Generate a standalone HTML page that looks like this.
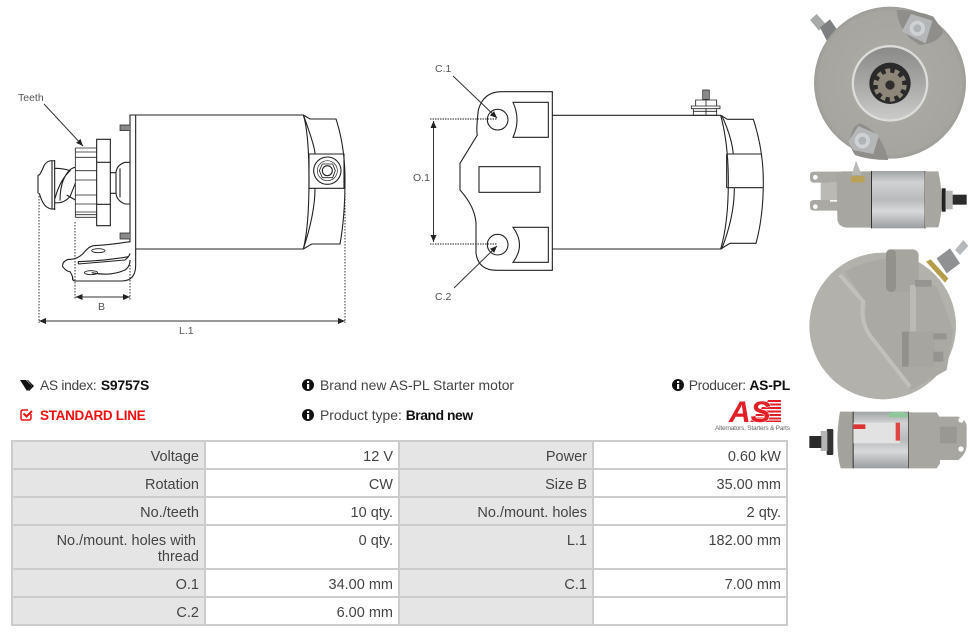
<!DOCTYPE html>
<html><head><meta charset="utf-8">
<style>
html,body{margin:0;padding:0;background:#fff}
#p{position:relative;width:976px;height:636px;overflow:hidden;font-family:"Liberation Sans",sans-serif;color:#444}
.t{position:absolute;white-space:nowrap;font-size:13.9px;line-height:18px}
.t b{color:#111;letter-spacing:-.45px}
.c{position:absolute;box-sizing:border-box;text-align:right;font-size:14.5px;line-height:16px;padding:7px 6px 0 6px;color:#444}
.l{background:#e5e5e5}
.g{position:absolute;background:#ccc}
svg{position:absolute;left:0;top:0}
</style></head><body><div id="p">
<svg width="976" height="636" viewBox="0 0 976 636">
<defs>
<marker id="a" markerWidth="8" markerHeight="8" refX="7" refY="3" orient="auto-start-reverse" markerUnits="userSpaceOnUse"><path d="M0 0L7 3L0 6Z" fill="#222"/></marker>
<linearGradient id="sil" x1="0" y1="0" x2="0" y2="1"><stop offset="0" stop-color="#a0a3a5"/><stop offset=".2" stop-color="#d0d2d3"/><stop offset=".5" stop-color="#b8babb"/><stop offset=".7" stop-color="#d8d9da"/><stop offset="1" stop-color="#9a9da0"/></linearGradient>
<linearGradient id="hub" x1="0" y1="0" x2="0" y2="1"><stop offset="0" stop-color="#8a8a88"/><stop offset=".6" stop-color="#aeaeac"/><stop offset="1" stop-color="#cbcbc9"/></linearGradient>
<radialGradient id="gc" cx=".5" cy=".5" r=".55"><stop offset="0" stop-color="#adaca7"/><stop offset=".85" stop-color="#a6a5a0"/><stop offset="1" stop-color="#908f8a"/></radialGradient>
</defs>

<!-- left drawing -->
<g transform="translate(10 80) scale(.33333)" fill="none" stroke="#222" stroke-width="3.300">
<path d="M377 105H880Q897 160 897 300Q897 440 880 507H377"/>
<path d="M360 487V105H377V555Q377 603 335 603H195Q186 603 188 590"/>
<path d="M880 105L900 117H978Q1005 200 1005 300Q1005 410 990 492H905L880 507"/>
<path d="M880 105Q915 200 915 222M880 507Q915 400 915 325M897 222H1002V325H897Z"/>
<circle cx="952" cy="272" r="41"/><circle cx="952" cy="272" r="30" stroke-width="2"/>
<path d="M937 252L968 252L976 272L968 293L937 293L928 272Z" stroke-width="2.500"/><circle cx="952" cy="272" r="15"/>
<path d="M360 135H330V152H360M360 459H330V477H360" fill="#888" stroke-width="2"/>
<path d="M260 178H301V437H260ZM260 247H301M260 373H301"/>
<path d="M196 204H260M196 412H260M196 204V412M196 232H260M196 272H260M196 300H260M196 345H260M196 372H260M196 216H260M196 396H260M196 404H260" stroke-width="2.500"/>
<path d="M301 278H318V340H301M318 278Q320 255 345 247H360M318 340Q320 362 345 372H360M330 265V352"/>
<path d="M134 240V390M126 243V388"/>
<path d="M134 243Q115 238 103 255Q95 275 88 285L84 285M84 285V340M88 340Q98 375 112 382Q125 390 134 386"/>
<path d="M134 265Q160 265 180 272Q150 300 135 355M196 262Q175 265 160 300Q150 325 150 362M134 368Q160 372 180 350L196 310M170 345L196 360"/>
<path d="M360 485Q300 495 250 497Q235 500 220 520Q200 540 175 538Q155 545 158 560Q170 575 180 575Q190 590 188 600"/>
<path d="M205 552Q290 545 345 540Q358 530 360 520M205 552V545Q290 542 355 530M245 578Q300 590 345 570Q360 560 360 540"/>
<ellipse cx="265" cy="512" rx="20" ry="6" stroke-width="2.500"/><ellipse cx="243" cy="578" rx="20" ry="6" stroke-width="2.500"/>
</g>
<g fill="none" stroke="#333" stroke-width="1">
<path d="M39 193V323M75 222V300M130 262V300M345 193V323" stroke-dasharray="1.500 1.500"/>
<path d="M75.500 297H130" marker-start="url(#a)" marker-end="url(#a)"/>
<path d="M39 321H345" marker-start="url(#a)" marker-end="url(#a)"/>
<path d="M44 104L83 146" marker-end="url(#a)"/>
</g>

<!-- middle drawing -->
<g transform="translate(400 50) scale(.33333)" fill="none" stroke="#222" stroke-width="3.300">
<path d="M457 125H305Q250 125 235 180Q228 240 232 255L180 340V420Q225 470 228 520V610Q235 661 290 661H457Z"/>
<circle cx="293" cy="209" r="31"/><circle cx="293" cy="584" r="31"/>
<path d="M339 157H445V262H339Q363 210 339 157ZM339 532H445V637H339Q378 585 339 532Z"/>
<rect x="237" y="350" width="183" height="77"/>
<path d="M457 196H962Q985 280 985 395Q985 520 962 597H457"/>
<path d="M962 196L982 208H1060Q1090 300 1090 395Q1090 500 1068 580H990L962 597"/>
<path d="M965 196Q995 260 1000 312M965 597Q1003 500 1003 415M980 312H1084M980 413H1088M980 312V413"/>
<path d="M874 168H960V176H874ZM880 176V196H950V176M887 168V150H950V168M918 150V168M880 184H950M918 176V196" stroke-width="2.500"/>
<path d="M908 148V120H928V148Z" fill="#888" stroke-width="2"/>
</g>
<g fill="none" stroke="#333" stroke-width="1">
<path d="M430 119H497M430 244H497" stroke="#222" stroke-dasharray="1.500 1"/>
<path d="M433.500 121V242" marker-start="url(#a)" marker-end="url(#a)"/>
<path d="M453 76L497 118" marker-end="url(#a)"/>
<path d="M454 288L497 246" marker-end="url(#a)"/>
</g>

<!-- photo 1 -->
<g transform="translate(805 0) scale(.33333)">
<path d="M15 60L35 42L62 72L42 92Z" fill="#a8aaaa"/><path d="M45 82L75 58L97 90L65 122Z" fill="#7d7f80"/>
<circle cx="255" cy="248" r="228" fill="url(#gc)"/>
<path d="M275 30Q280 100 345 135Q400 130 415 95L385 50Q330 28 275 30Z" fill="#8f8e8a"/>
<path d="M290 95L318 42L382 62L362 130Z" fill="#b4b6b7"/><circle cx="337" cy="85" r="23" fill="#cfd2d4"/><circle cx="337" cy="85" r="12" fill="#b0b3b5"/>
<path d="M135 420Q140 378 165 370Q230 395 250 480Q190 480 150 465Q135 445 135 420Z" fill="#8f8e8a"/>
<path d="M130 425L160 378L222 405L205 462L145 450Z" fill="#b4b6b7"/><circle cx="172" cy="422" r="23" fill="#cfd2d4"/><circle cx="172" cy="422" r="12" fill="#b0b3b5"/>
<circle cx="255" cy="250" r="115" fill="#dcdcda"/><circle cx="255" cy="250" r="108" fill="url(#hub)"/>
<circle cx="255" cy="250" r="62" fill="#2b2a2b"/>
<circle cx="255" cy="255" r="37" fill="#8c8779"/><circle cx="255" cy="255" r="43" fill="none" stroke="#8c8779" stroke-width="14" stroke-dasharray="14 13"/>
<circle cx="255" cy="255" r="14" fill="#302e2c"/>
</g>
<!-- photo 2 -->
<g transform="translate(800 0) scale(.33333)">
<path d="M30 525Q30 515 42 515H120V548H90V605H120V632H42Q30 632 30 620V610Q30 600 42 600H65V548H42Q30 548 30 535Z" fill="#aaa9a3"/>
<circle cx="46" cy="532" r="7" fill="#fff"/><circle cx="46" cy="620" r="7" fill="#fff"/>
<rect x="62" y="548" width="55" height="52" fill="#bab9b3"/>
<path d="M110 530Q112 514 125 514H215V683H140Q110 680 112 650Z" fill="#a7a6a0"/>
<rect x="215" y="513" width="160" height="172" fill="url(#sil)"/>
<rect x="213" y="513" width="3" height="172" fill="#333"/><rect x="374" y="513" width="3" height="172" fill="#333"/>
<path d="M375 514H415Q425 560 425 600Q425 650 415 682H375Z" fill="#a7a6a0"/>
<rect x="425" y="565" width="12" height="70" fill="#222"/><rect x="437" y="572" width="21" height="56" fill="#b5b5b3"/><rect x="458" y="584" width="42" height="30" fill="#2c2b2b"/>
<path d="M155 525L168 482L185 525Z" fill="#b8b9b5"/><rect x="152" y="528" width="42" height="20" rx="6" fill="#b9a258"/>
</g>

<!-- photo 3 -->
<g transform="translate(800 230) scale(.33333)">
<circle cx="248" cy="288" r="220" fill="#b2b1ab"/>
<path d="M135 125Q190 95 262 85V190Q290 180 330 140L410 170L460 300L440 420L335 480L205 300Q190 260 200 225Z" fill="#aaa9a3"/>
<path d="M120 135L190 215Q180 265 205 310L330 470" fill="none" stroke="#c1c0bb" stroke-width="12"/>
<rect x="258" y="58" width="98" height="128" rx="18" fill="#a6a59f"/><rect x="258" y="58" width="30" height="128" rx="14" fill="#92918b"/>
<rect x="330" y="165" width="18" height="140" fill="#bbbab5"/>
<rect x="306" y="305" width="98" height="105" rx="8" fill="#a6a59f"/><rect x="306" y="305" width="20" height="105" fill="#92918b"/>
<path d="M345 150H395V170H345ZM400 310H440V328H400ZM400 365H430V395H400Z" fill="#959490"/>
<path d="M378 95L392 88L445 145L435 158Z" fill="#b49d4a"/>
<path d="M410 85L450 55L480 100L440 130Z" fill="#8f9193"/><path d="M465 60L490 30L505 48L480 75Z" fill="#b6b9bb"/>
</g>
<!-- photo 4 -->
<g transform="translate(800 230) scale(.33333)">
<path d="M130 545H120Q112 590 112 630Q112 680 122 715H160V545Z" fill="#a3a29c"/>
<rect x="160" y="545" width="165" height="170" fill="url(#sil)"/>
<rect x="158" y="545" width="3" height="170" fill="#333"/><rect x="324" y="545" width="3" height="170" fill="#333"/>
<path d="M326 547H410L418 560H475Q500 570 500 590V645Q500 670 475 690H420V700L410 715H326Z" fill="#a7a6a0"/>
<circle cx="483" cy="570" r="8" fill="#fff"/><circle cx="483" cy="657" r="8" fill="#fff"/>
<path d="M420 590H470V640H420Z" fill="#999892"/>
<rect x="80" y="597" width="20" height="78" rx="4" fill="#333"/><rect x="62" y="603" width="20" height="60" fill="#b5b5b3"/><rect x="28" y="618" width="36" height="36" fill="#2c2b2b"/>
<rect x="160" y="578" width="140" height="62" fill="#e2e2e2"/><rect x="287" y="578" width="13" height="54" fill="#e1453f"/>
<path d="M265 550Q295 540 322 550V562H265Z" fill="#8fc79a"/><path d="M160 583H196V597H160Z" fill="#dd3333"/>
</g>

<!-- info icons -->
<g fill="#111">
<path d="M20 380H26L32 386L27 391Z"/><path d="M28 380L34 386L29 391L28 390L32 386L27 380Z"/>
<circle cx="308" cy="385" r="6"/><circle cx="308" cy="415" r="6"/><circle cx="678" cy="385" r="6"/>
</g>
<g fill="#fff">
<rect x="307" y="381" width="2.200" height="2"/><rect x="307" y="384" width="2.200" height="5"/>
<rect x="307" y="411" width="2.200" height="2"/><rect x="307" y="414" width="2.200" height="5"/>
<rect x="677" y="381" width="2.200" height="2"/><rect x="677" y="384" width="2.200" height="5"/>
</g>
<path d="M31 414V418Q31 420 29 420H23Q21 420 21 418V412Q21 410 23 410H28" fill="none" stroke="#f01010" stroke-width="1.500"/>
<path d="M23.500 413.500L26.500 416.500L32 411" fill="none" stroke="#f01010" stroke-width="2"/>

<!-- logo -->
<g fill="#e31e26">
<path d="M768 400H781V402H767ZM765 403.500H781V405.500H764ZM762 407H781V409H761ZM759 410.500H781V412.500H758ZM756 414H781V416H755ZM753 417.500H781V419.500H752ZM751 420.500H781V422H750Z"/>
<text x="729" y="422" font-family="Liberation Sans" font-size="30" font-weight="700" font-style="italic" stroke="#fff" stroke-width="1" paint-order="stroke">AS</text>
</g>
<text x="715" y="430" font-family="Liberation Sans" font-size="6.500" fill="#666" textLength="75">Alternators, Starters &amp; Parts</text>

<!-- drawing labels -->
<g font-family="Liberation Sans" font-size="10.500" fill="#555">
<text x="18" y="101">Teeth</text><text x="98" y="310">B</text><text x="179" y="334">L.1</text>
<text x="435" y="72">C.1</text><text x="413" y="181">O.1</text><text x="435" y="300">C.2</text>
</g>
</svg>

<div class="t" style="left:40px;top:376px;letter-spacing:-.35px">AS index: <b style="letter-spacing:-.2px;margin-left:1px">S9757S</b></div>
<div class="t" style="left:40px;top:407px;color:#f01010;font-weight:700;font-size:13.500px;letter-spacing:-.3px">STANDARD LINE</div>
<div class="t" style="left:320px;top:376px">Brand new AS-PL Starter motor</div>
<div class="t" style="left:320px;top:406px">Product type: <b>Brand new</b></div>
<div class="t" style="right:186px;top:376px;letter-spacing:-.35px">Producer: <b style="letter-spacing:-.2px">AS-PL</b></div>

<div class="c l" style="left:12px;top:442px;width:193px;height:27px">Voltage</div>
<div class="c" style="left:206px;top:442px;width:193px;height:27px">12 V</div>
<div class="c l" style="left:400px;top:442px;width:193px;height:27px">Power</div>
<div class="c" style="left:594px;top:442px;width:193px;height:27px">0.60 kW</div>
<div class="c l" style="left:12px;top:470px;width:193px;height:27px">Rotation</div>
<div class="c" style="left:206px;top:470px;width:193px;height:27px">CW</div>
<div class="c l" style="left:400px;top:470px;width:193px;height:27px">Size B</div>
<div class="c" style="left:594px;top:470px;width:193px;height:27px">35.00 mm</div>
<div class="c l" style="left:12px;top:498px;width:193px;height:27px">No./teeth</div>
<div class="c" style="left:206px;top:498px;width:193px;height:27px">10 qty.</div>
<div class="c l" style="left:400px;top:498px;width:193px;height:27px">No./mount. holes</div>
<div class="c" style="left:594px;top:498px;width:193px;height:27px">2 qty.</div>
<div class="c l" style="left:12px;top:526px;width:193px;height:43px"><span style="margin-right:3px">No./mount. holes with</span><br>thread</div>
<div class="c" style="left:206px;top:526px;width:193px;height:43px">0 qty.</div>
<div class="c l" style="left:400px;top:526px;width:193px;height:43px">L.1</div>
<div class="c" style="left:594px;top:526px;width:193px;height:43px">182.00 mm</div>
<div class="c l" style="left:12px;top:570px;width:193px;height:27px">O.1</div>
<div class="c" style="left:206px;top:570px;width:193px;height:27px">34.00 mm</div>
<div class="c l" style="left:400px;top:570px;width:193px;height:27px">C.1</div>
<div class="c" style="left:594px;top:570px;width:193px;height:27px">7.00 mm</div>
<div class="c l" style="left:12px;top:598px;width:193px;height:27px">C.2</div>
<div class="c" style="left:206px;top:598px;width:193px;height:27px">6.00 mm</div>
<div class="c l" style="left:400px;top:598px;width:193px;height:27px"></div>
<div class="c" style="left:594px;top:598px;width:193px;height:27px"></div>

<div class="g" style="left:11px;top:440px;width:777px;height:2px"></div>
<div class="g" style="left:11px;top:468px;width:777px;height:2px"></div>
<div class="g" style="left:11px;top:496px;width:777px;height:2px"></div>
<div class="g" style="left:11px;top:524px;width:777px;height:2px"></div>
<div class="g" style="left:11px;top:568px;width:777px;height:2px"></div>
<div class="g" style="left:11px;top:596px;width:777px;height:2px"></div>
<div class="g" style="left:11px;top:624px;width:777px;height:2px"></div>
<div class="g" style="left:11px;top:440px;width:2px;height:186px"></div>
<div class="g" style="left:204px;top:440px;width:2px;height:186px"></div>
<div class="g" style="left:398px;top:440px;width:2px;height:186px"></div>
<div class="g" style="left:592px;top:440px;width:2px;height:186px"></div>
<div class="g" style="left:786px;top:440px;width:2px;height:186px"></div>
</div></body></html>
